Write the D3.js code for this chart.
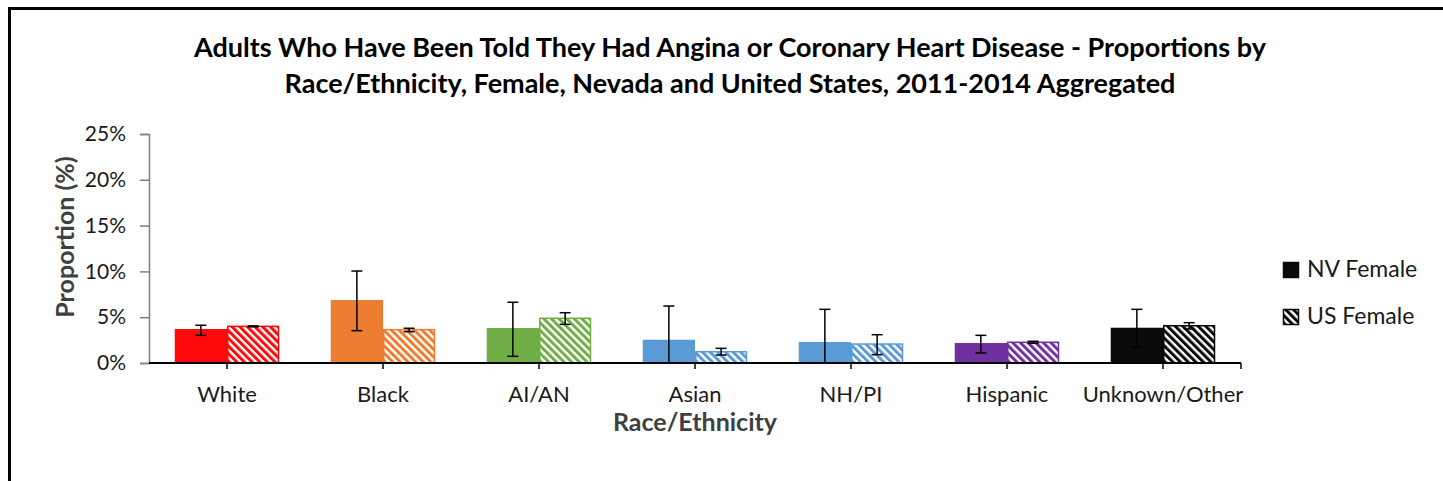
<!DOCTYPE html>
<html>
<head>
<meta charset="utf-8">
<script src="https://cdn.jsdelivr.net/npm/d3@7"></script>
<style>
  body { margin: 0; background: #fff; }
  svg { display: block; font-family: Lato, 'Open Sans', sans-serif; }
</style>
</head>
<body>
<svg id="chart" width="1443" height="481"></svg>
<script>
const categories = ['White', 'Black', 'AI/AN', 'Asian', 'NH/PI', 'Hispanic', 'Unknown/Other']
const colors = ['#fe0a0a', '#ed7d31', '#70ad47', '#5b9bd5', '#5b9bd5', '#7030a0', '#0a0a0a']
const nvValues = [3.71, 6.88, 3.82, 2.54, 2.29, 2.18, 3.85]
const nvLow = [3.02, 3.53, 0.73, 0, 0, 1.09, 1.75]
const nvHigh = [4.12, 10.04, 6.63, 6.22, 5.86, 3.02, 5.86]
const usValues = [4.0, 3.64, 4.88, 1.23, 2.07, 2.26, 4.07]
const usLow = [3.95, 3.42, 4.22, 0.87, 0.91, 2.15, 3.71]
const usHigh = [4.05, 3.79, 5.49, 1.6, 3.09, 2.37, 4.4]
const yTicks = [0, 5, 10, 15, 20, 25]
const seriesNames = ['NV Female', 'US Female']
const titleLines = [
  'Adults Who Have Been Told They Had Angina or Coronary Heart Disease - Proportions by',
  'Race/Ethnicity, Female, Nevada and United States, 2011-2014 Aggregated'
]

const svg = d3.select('#chart')
const margin = { left: 149, right: 202, top: 134, bottom: 118 }
const width = +svg.attr('width')
const height = +svg.attr('height')
const innerWidth = width - margin.left - margin.right
const innerHeight = height - margin.top - margin.bottom

// outer frame: only the left and top edges are inside the picture
svg.append('path')
  .attr('d', `M9.5,${height} V8.5 H${width}`)
  .attr('fill', 'none')
  .attr('stroke', '#000')
  .attr('stroke-width', 3)

// hatch patterns, one per colour
const defs = svg.append('defs')
let patternId = c => 'hatch' + c.replace('#', '')
Array.from(new Set(colors)).forEach(c => {
  let p = defs.append('pattern')
    .attr('id', patternId(c))
    .attr('patternUnits', 'userSpaceOnUse')
    .attr('width', 5.4).attr('height', 5.4)
    .attr('patternTransform', 'rotate(45)')
  p.append('rect').attr('width', 5.4).attr('height', 5.4).attr('fill', c)
  p.append('rect').attr('width', 5.4).attr('height', 2.4).attr('fill', '#fff')
})

const g = svg.append('g')
  .attr('transform', `translate(${margin.left},${margin.top})`)

const x0 = d3.scaleBand()
  .domain(categories)
  .range([0, innerWidth])
  .paddingInner(0.33)
  .paddingOuter(0.165)
const x1 = d3.scaleBand()
  .domain(seriesNames)
  .range([0, x0.bandwidth()])
const y = d3.scaleLinear().domain([0, 25]).range([innerHeight, 0])

// y axis
const yAxis = d3.axisLeft(y)
  .tickValues(yTicks)
  .tickSize(9)
  .tickPadding(14)
  .tickFormat(d => d + '%')
const yAxisG = g.append('g').call(yAxis)
yAxisG.select('.domain').attr('stroke', '#7f7f7f').attr('stroke-width', 1.5)
yAxisG.selectAll('.tick line').attr('stroke', '#7f7f7f').attr('stroke-width', 1.5)
yAxisG.selectAll('.tick text')
  .attr('font-size', 21)
  .attr('fill', '#1a1a1a')
  .style('font-family', 'Lato, sans-serif')

// bars
const rows = categories.map((c, i) => ({
  cat: c,
  color: colors[i],
  bars: [
    { key: seriesNames[0], v: nvValues[i], lo: nvLow[i], hi: nvHigh[i] },
    { key: seriesNames[1], v: usValues[i], lo: usLow[i], hi: usHigh[i] }
  ]
}))

const groups = g.selectAll('.grp').data(rows).enter().append('g')
  .attr('class', 'grp')
  .attr('transform', d => `translate(${x0(d.cat)},0)`)

groups.each(function (row) {
  let sel = d3.select(this)
  sel.selectAll('rect.bar').data(row.bars).enter().append('rect')
    .attr('class', 'bar')
    .attr('x', d => x1(d.key) + (d.key === seriesNames[1] ? 0.75 : 0))
    .attr('y', d => y(d.v))
    .attr('width', d => x1.bandwidth() - (d.key === seriesNames[1] ? 1.5 : 0))
    .attr('height', d => y(0) - y(d.v))
    .attr('fill', d => d.key === seriesNames[1] ? `url(#${patternId(row.color)})` : row.color)
    .attr('stroke', d => d.key === seriesNames[1] ? row.color : 'none')
    .attr('stroke-width', 1.5)

  // error bars
  let eb = sel.selectAll('g.err').data(row.bars).enter().append('g')
    .attr('class', 'err')
    .attr('stroke', '#000')
    .attr('stroke-width', 1.5)
  let cx = d => x1(d.key) + x1.bandwidth() / 2
  eb.append('line')
    .attr('x1', cx).attr('x2', cx)
    .attr('y1', d => y(d.hi)).attr('y2', d => y(d.lo))
  eb.append('line')
    .attr('x1', d => cx(d) - 5.5).attr('x2', d => cx(d) + 5.5)
    .attr('y1', d => y(d.hi)).attr('y2', d => y(d.hi))
  eb.append('line')
    .attr('x1', d => cx(d) - 5.5).attr('x2', d => cx(d) + 5.5)
    .attr('y1', d => y(d.lo)).attr('y2', d => y(d.lo))
})

// x axis: ticks at category centres plus one at the right end
const xAxisG = g.append('g').attr('transform', `translate(0,${innerHeight})`)
xAxisG.append('line')
  .attr('x1', 0).attr('x2', innerWidth)
  .attr('stroke', '#000').attr('stroke-width', 2)
const tickPos = categories.map(c => x0(c) + x0.bandwidth() / 2).concat([innerWidth])
xAxisG.selectAll('.xt').data(tickPos).enter().append('line')
  .attr('class', 'xt')
  .attr('x1', d => d).attr('x2', d => d)
  .attr('y1', 0).attr('y2', 6)
  .attr('stroke', '#000').attr('stroke-width', 1.5)
xAxisG.selectAll('.xl').data(categories).enter().append('text')
  .attr('class', 'xl')
  .attr('x', d => x0(d) + x0.bandwidth() / 2)
  .attr('y', 39)
  .attr('text-anchor', 'middle')
  .attr('font-size', 22)
  .attr('fill', '#1a1a1a')
  .text(d => d)

// axis titles
g.append('text')
  .attr('x', x0('Asian') + x0.bandwidth() / 2)
  .attr('y', innerHeight + 68)
  .attr('text-anchor', 'middle')
  .attr('font-size', 25)
  .attr('font-weight', 'bold')
  .attr('fill', '#404040')
  .text('Race/Ethnicity')
g.append('text')
  .attr('transform', `translate(${74 - margin.left},${237 - margin.top}) rotate(-90)`)
  .attr('text-anchor', 'middle')
  .attr('font-size', 25)
  .attr('font-weight', 'bold')
  .attr('fill', '#404040')
  .text('Proportion (%)')

// title
svg.append('text')
  .attr('x', 730)
  .attr('text-anchor', 'middle')
  .attr('font-size', 27)
  .attr('font-weight', 'bold')
  .attr('fill', '#000')
  .selectAll('tspan').data(titleLines).enter().append('tspan')
  .attr('x', 730)
  .attr('y', (d, i) => 57 + i * 36)
  .text(d => d)

// legend
const legend = svg.append('g').attr('transform', 'translate(1283,262)')
const li = legend.selectAll('g').data(seriesNames).enter().append('g')
  .attr('transform', (d, i) => `translate(0,${i * 47})`)
li.append('rect')
  .attr('x', 0.5).attr('y', 0.5)
  .attr('width', 15).attr('height', 15)
  .attr('fill', (d, i) => i === 0 ? '#0a0a0a' : `url(#${patternId('#0a0a0a')})`)
  .attr('stroke', '#0a0a0a')
  .attr('stroke-width', 1.5)
li.append('text')
  .attr('x', 24)
  .attr('y', 15)
  .attr('font-size', 23)
  .attr('fill', '#1a1a1a')
  .text(d => d)
</script>
</body>
</html>
